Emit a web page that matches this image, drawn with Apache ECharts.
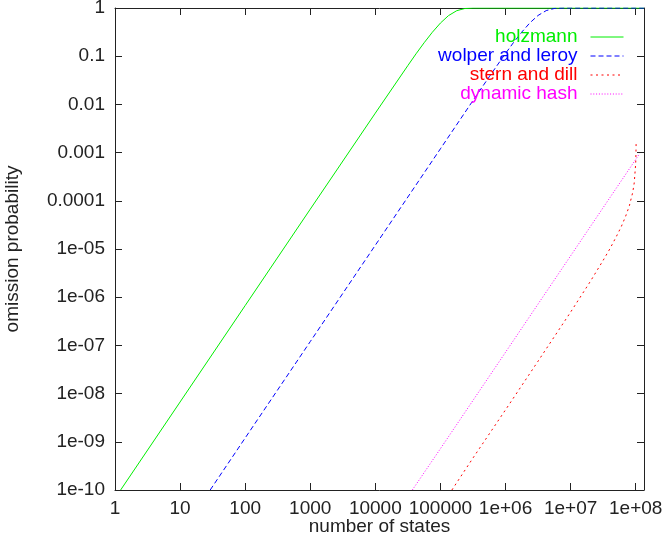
<!DOCTYPE html>
<html>
<head>
<meta charset="utf-8">
<title>omission probability</title>
<script src="https://cdn.jsdelivr.net/npm/echarts@6/dist/echarts.min.js"></script>
<style>
  html, body { margin: 0; padding: 0; background: #fff; }
  #chart { width: 665px; height: 542px; }
</style>
</head>
<body>
<div id="chart"></div>
<script>
// Series names, in plotting order
const seriesNames = ['holzmann', 'wolper and leroy', 'stern and dill', 'dynamic hash'];

// holzmann
const holzmannStates = [1.22, 10, 100, 1000, 10000, 31600, 42200, 56200, 75000, 100000,
  133000, 178000, 237000, 316000, 562000, 1e6, 1e7, 1e8, 1.34e8];
const holzmannProb = [1.0e-10, 6.7e-9, 6.7e-7, 6.7e-5, 6.6e-3, 0.064, 0.112, 0.19, 0.313, 0.487,
  0.695, 0.879, 0.977, 0.9987, 1, 1, 1, 1, 1];

// wolper and leroy
const wolperStates = [29, 100, 1000, 10000, 100000, 316000, 562000, 750000, 1e6, 1.33e6,
  1.78e6, 2.37e6, 3.16e6, 4.22e6, 5.62e6, 7.5e6, 1e7, 1e8, 1.34e8];
const wolperProb = [1.0e-10, 1.2e-9, 1.2e-7, 1.2e-5, 1.2e-3, 0.012, 0.0374, 0.0655, 0.114, 0.193,
  0.317, 0.492, 0.700, 0.883, 0.978, 0.9989, 1, 1, 1];

// stern and dill
const sternStates = [1.5e5, 3.16e5, 1e6, 3.16e6, 1e7, 2e7, 3.16e7, 4e7, 5e7, 6e7, 7e7, 8e7,
  9e7, 9.5e7, 1e8, 1.01e8, 1.015e8];
const sternProb = [1.0e-10, 4.6e-10, 4.6e-9, 4.7e-8, 4.9e-7, 2.1e-6, 5.8e-6, 1.0e-5, 1.77e-5,
  2.9e-5, 4.75e-5, 7.9e-5, 1.49e-4, 2.35e-4, 5.9e-4, 9.4e-4, 1.5e-3];

// dynamic hash
const dynamicStates = [37000, 1e5, 3.16e5, 1e6, 3.16e6, 1e7, 3.16e7, 1e8, 1.15e8];
const dynamicProb = [1.0e-10, 7.2e-10, 7.2e-9, 7.2e-8, 7.2e-7, 7.2e-6, 7.2e-5, 7.2e-4, 9.6e-4];

// Tick labels by decade
const xTickLabels = ['1', '10', '100', '1000', '10000', '100000', '1e+06', '1e+07', '1e+08'];
const yTickLabels = ['1', '0.1', '0.01', '0.001', '0.0001', '1e-05', '1e-06', '1e-07',
  '1e-08', '1e-09', '1e-10'];

const X_MIN = 1, X_MAX = 134217728;
const Y_MIN = 1e-10, Y_MAX = 1;

const FONT = "'Liberation Sans', Arial, Helvetica, sans-serif";
const FONT_SIZE = 19;
const AXIS_COLOR = '#222';
const TEXT_COLOR = '#222';
const colors = ['#00ee00', '#0000ff', '#ff0000', '#ff00ff'];
const lineTypes = ['solid', [5, 3], [2, 3.5], [1, 1.8]];
const pairs = (xs, ys) => xs.map((x, i) => [x, ys[i]]);
const seriesData = [
  pairs(holzmannStates, holzmannProb),
  pairs(wolperStates, wolperProb),
  pairs(sternStates, sternProb),
  pairs(dynamicStates, dynamicProb)
];

function decade(v) {
  const l = Math.log10(v);
  const e = Math.round(l);
  return Math.abs(l - e) < 1e-6 ? e : null;
}

const baseX = {
  type: 'log', logBase: 10, min: X_MIN, max: X_MAX, interval: 1,
  axisLine: { show: true, lineStyle: { color: AXIS_COLOR, width: 1 } },
  axisTick: { show: true, inside: true, length: 7, lineStyle: { color: AXIS_COLOR, width: 1 } },
  minorTick: { show: false },
  splitLine: { show: false }
};
const baseY = {
  type: 'log', logBase: 10, min: Y_MIN, max: Y_MAX, interval: 1,
  axisLine: { show: true, lineStyle: { color: AXIS_COLOR, width: 1 } },
  axisTick: { show: true, inside: true, length: 7, lineStyle: { color: AXIS_COLOR, width: 1 } },
  minorTick: { show: false },
  splitLine: { show: false }
};

const legendRows = [34.5, 53.5, 72.5, 91.5];

const option = {
  animation: false,
  backgroundColor: '#fff',
  textStyle: { fontFamily: FONT },
  grid: { left: 115, right: 21, top: 8, bottom: 52, containLabel: false, outerBoundsMode: 'none' },
  legend: seriesNames.map((name, i) => ({
    data: [name],
    orient: 'vertical',
    align: 'right',
    right: 41,
    top: legendRows[i] - 7,
    padding: 0,
    itemWidth: 33,
    itemHeight: 14,
    selectedMode: false,
    itemStyle: { opacity: 0 },
    lineStyle: { width: 1, color: colors[i], type: lineTypes[i] },
    textStyle: { fontSize: FONT_SIZE, color: colors[i], fontFamily: FONT, padding: [0, 8, 0, 0] }
  })),
  xAxis: [
    Object.assign({}, baseX, {
      position: 'bottom',
      name: 'number of states',
      nameLocation: 'middle',
      nameGap: 27,
      nameMoveOverlap: false,
      nameTextStyle: { fontSize: FONT_SIZE, color: TEXT_COLOR, fontFamily: FONT },
      axisLabel: {
        show: true, margin: 9, fontSize: FONT_SIZE, color: TEXT_COLOR, fontFamily: FONT,
        formatter: v => { const e = decade(v); return e === null ? '' : (xTickLabels[e] || ''); }
      }
    }),
    Object.assign({}, baseX, { position: 'top', axisLabel: { show: false } })
  ],
  yAxis: [
    Object.assign({}, baseY, {
      position: 'left',
      name: 'omission probability',
      nameLocation: 'middle',
      nameGap: 93,
      nameMoveOverlap: false,
      nameRotate: 90,
      nameTextStyle: { fontSize: FONT_SIZE, color: TEXT_COLOR, fontFamily: FONT },
      axisLabel: {
        show: true, margin: 10, fontSize: FONT_SIZE, color: TEXT_COLOR, fontFamily: FONT,
        formatter: v => { const e = decade(v); return e === null ? '' : (yTickLabels[-e] || ''); }
      }
    }),
    Object.assign({}, baseY, { position: 'right', axisLabel: { show: false } })
  ],
  series: seriesNames.map((name, i) => ({
    name: name,
    type: 'line',
    xAxisIndex: 0,
    yAxisIndex: 0,
    data: seriesData[i],
    symbol: 'none',
    showSymbol: false,
    smooth: false,
    clip: true,
    lineStyle: { color: colors[i], width: 1, type: lineTypes[i] },
    itemStyle: { color: colors[i] },
    emphasis: { disabled: true }
  }))
};

const chart = echarts.init(document.getElementById('chart'), null, { renderer: 'canvas' });
chart.setOption(option);
</script>
</body>
</html>
